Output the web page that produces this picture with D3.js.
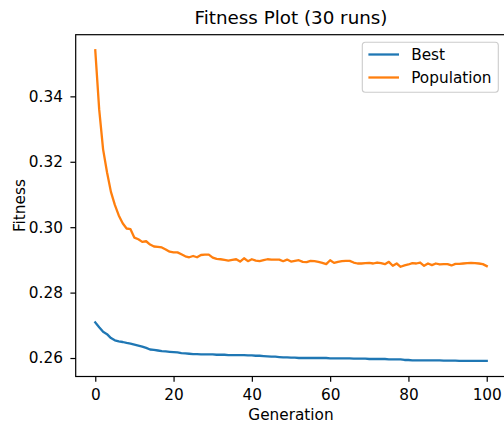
<!DOCTYPE html>
<html>
<head>
<meta charset="utf-8">
<script src="https://cdn.jsdelivr.net/npm/d3@7"></script>
<style>
  html, body { margin: 0; padding: 0; background: #fff; }
  svg { display: block; font-family: "DejaVu Sans", sans-serif; }
</style>
</head>
<body>
<div id="chart"></div>
<script>
"use strict";

// fitness per generation, averaged over 30 runs
var bestFitness = [
  0.2709, 0.2694, 0.2680, 0.2673, 0.2661, 0.2654, 0.2651, 0.2649, 0.2646, 0.2644,
  0.2641, 0.2638, 0.2635, 0.2631, 0.2626, 0.2625, 0.2623, 0.2621, 0.2620, 0.2619,
  0.2618, 0.2617, 0.2615, 0.2614, 0.2613, 0.2612, 0.2612, 0.2611, 0.2611, 0.2611,
  0.2611, 0.2610, 0.2610, 0.2610, 0.2609, 0.2609, 0.2609, 0.2609, 0.2609, 0.2608,
  0.2608, 0.2607, 0.2607, 0.2606, 0.2605, 0.2604, 0.2604, 0.2603, 0.2602, 0.2602,
  0.2601, 0.2601, 0.2600, 0.2600, 0.2600, 0.2600, 0.2600, 0.2600, 0.2600, 0.2600,
  0.2599, 0.2599, 0.2599, 0.2599, 0.2599, 0.2599, 0.2598, 0.2598, 0.2598, 0.2598,
  0.2597, 0.2597, 0.2597, 0.2597, 0.2597, 0.2596, 0.2596, 0.2596, 0.2596, 0.2594,
  0.2594, 0.2593, 0.2593, 0.2593, 0.2593, 0.2593, 0.2593, 0.2593, 0.2593, 0.2592,
  0.2592, 0.2592, 0.2592, 0.2591, 0.2591, 0.2591, 0.2591, 0.2591, 0.2591, 0.2591,
  0.2591
];

var populationFitness = [
  0.3541, 0.3360, 0.3238, 0.3168, 0.3108, 0.3068, 0.3036, 0.3012, 0.2996, 0.2994,
  0.2968, 0.2963, 0.2955, 0.2957, 0.2947, 0.2941, 0.2940, 0.2938, 0.2932, 0.2925,
  0.2923, 0.2923, 0.2917, 0.2911, 0.2908, 0.2912, 0.2908, 0.2915, 0.2916, 0.2916,
  0.2907, 0.2903, 0.2902, 0.2900, 0.2898, 0.2900, 0.2902, 0.2895, 0.2905, 0.2896,
  0.2902, 0.2898, 0.2896, 0.2899, 0.2902, 0.2901, 0.2901, 0.2901, 0.2896, 0.2901,
  0.2895, 0.2897, 0.2899, 0.2894, 0.2893, 0.2897, 0.2896, 0.2894, 0.2891, 0.2887,
  0.2899, 0.2891, 0.2894, 0.2896, 0.2897, 0.2897, 0.2892, 0.2889, 0.2889, 0.2890,
  0.2891, 0.2889, 0.2892, 0.2890, 0.2887, 0.2894, 0.2882, 0.2889, 0.2879, 0.2883,
  0.2886, 0.2890, 0.2889, 0.2892, 0.2882, 0.2889, 0.2884, 0.2889, 0.2886, 0.2887,
  0.2887, 0.2883, 0.2888, 0.2888, 0.2889, 0.2890, 0.2891, 0.2890, 0.2889, 0.2887,
  0.2881
];

var seriesNames = ["Best", "Population"];
var xTicks = [0, 20, 40, 60, 80, 100];
var yTicks = [0.26, 0.28, 0.30, 0.32, 0.34];

var colors = ["#1f77b4", "#ff7f0e"];

var width = 504,
    height = 428,
    fontSize = 15.3,
    margin = { top: 34.7, right: -2.3, bottom: 51.5, left: 75.7 };

var svg = d3.select("#chart").append("svg")
    .attr("width", width)
    .attr("height", height);

var series = [bestFitness, populationFitness];
var generations = d3.range(bestFitness.length);

// matplotlib style 5% margins on each side
var xExt = d3.extent(generations),
    xPad = (xExt[1] - xExt[0]) * 0.05;
var yExt = d3.extent(bestFitness.concat(populationFitness)),
    yPad = (yExt[1] - yExt[0]) * 0.05;

var x = d3.scaleLinear()
    .domain([xExt[0] - xPad, xExt[1] + xPad])
    .range([margin.left, width - margin.right]);

var y = d3.scaleLinear()
    .domain([yExt[0] - yPad, yExt[1] + yPad])
    .range([height - margin.bottom, margin.top]);

var line = d3.line()
    .x(function (d, i) { return x(i); })
    .y(function (d) { return y(d); });

svg.append("g")
    .attr("fill", "none")
    .attr("stroke-width", 2.3)
    .attr("stroke-linejoin", "round")
    .attr("stroke-linecap", "square")
    .selectAll("path")
    .data(series)
    .join("path")
    .attr("stroke", function (d, i) { return colors[i]; })
    .attr("d", line);

// axes
var xAxis = svg.append("g")
    .attr("transform", "translate(0," + (height - margin.bottom) + ")")
    .call(d3.axisBottom(x).tickValues(xTicks).tickSize(5.3).tickPadding(7)
      .tickFormat(d3.format("d")));

var yAxis = svg.append("g")
    .attr("transform", "translate(" + margin.left + ",0)")
    .call(d3.axisLeft(y).tickValues(yTicks).tickSize(5.3).tickPadding(7.5)
      .tickFormat(d3.format(".2f")));

[xAxis, yAxis].forEach(function (g) {
  g.select(".domain").remove();
  g.selectAll(".tick line").attr("stroke", "#000").attr("stroke-width", 1.2);
  g.selectAll(".tick text")
      .attr("fill", "#000")
      .style("font-family", "DejaVu Sans")
      .style("font-size", fontSize + "px");
});

// spines
svg.append("rect")
    .attr("x", margin.left)
    .attr("y", margin.top)
    .attr("width", width - margin.right - margin.left)
    .attr("height", height - margin.bottom - margin.top)
    .attr("fill", "none")
    .attr("stroke", "#000")
    .attr("stroke-width", 1.2);

// title and labels
svg.append("text")
    .attr("x", (margin.left + width - margin.right) / 2)
    .attr("y", 24)
    .attr("text-anchor", "middle")
    .style("font-size", "18.3px")
    .text("Fitness Plot (30 runs)");

svg.append("text")
    .attr("x", (margin.left + width - margin.right) / 2)
    .attr("y", 419.5)
    .attr("text-anchor", "middle")
    .style("font-size", fontSize + "px")
    .text("Generation");

svg.append("text")
    .attr("transform", "translate(25," + ((margin.top + height - margin.bottom) / 2) + ") rotate(-90)")
    .attr("text-anchor", "middle")
    .style("font-size", fontSize + "px")
    .text("Fitness");

// legend
var legend = svg.append("g").attr("transform", "translate(362.3,42.3)");

legend.append("rect")
    .attr("width", 136)
    .attr("height", 50)
    .attr("rx", 3)
    .attr("fill", "#fff")
    .attr("fill-opacity", 0.8)
    .attr("stroke", "#ccc")
    .attr("stroke-width", 1.1);

var item = legend.selectAll("g.item")
    .data(seriesNames)
    .join("g")
    .attr("class", "item")
    .attr("transform", function (d, i) { return "translate(0," + (12.2 + i * 23) + ")"; });

item.append("line")
    .attr("x1", 6.1)
    .attr("x2", 36.7)
    .attr("stroke", function (d, i) { return colors[i]; })
    .attr("stroke-width", 2.3);

item.append("text")
    .attr("x", 48.9)
    .attr("dy", "0.36em")
    .style("font-size", fontSize + "px")
    .text(function (d) { return d; });
</script>
</body>
</html>
